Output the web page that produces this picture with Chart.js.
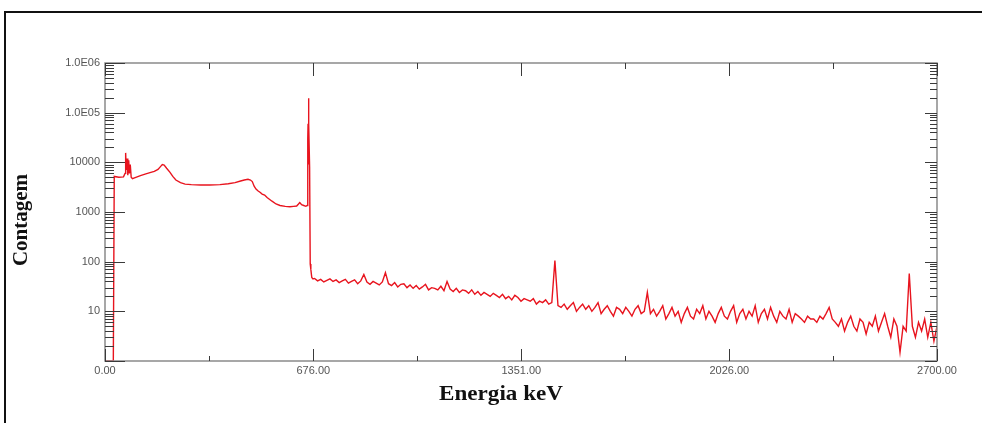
<!DOCTYPE html>
<html>
<head>
<meta charset="utf-8">
<script src="https://cdn.jsdelivr.net/npm/chart.js@4.4.0/dist/chart.umd.min.js"></script>
<style>
  body { margin: 0; background: #fff; }
  #caixa { position: relative; width: 982px; height: 423px; }
  #moldura { position: absolute; left: 4px; top: 11px; width: 980px; height: 412px;
             border-top: 2px solid #111; border-left: 2px solid #111; pointer-events: none; }
</style>
</head>
<body>
<div id="caixa">
  <canvas id="espectro" width="982" height="423"></canvas>
  <div id="moldura"></div>
</div>
<script>
// regiao de baixa energia (keV) e contagens
const energiaBaixa = [0, 20, 27, 30, 45, 60, 65, 67, 69, 72, 74, 77, 79, 82, 85, 89,
  100, 115, 130, 146, 160, 172, 180, 186, 192, 200, 211, 220, 230, 245, 260, 280, 310, 340, 373, 400,
  422, 440, 452, 464, 472, 478, 484, 490, 497, 503, 510, 518, 526, 542, 555, 568, 585, 600, 612, 622,
  628, 632, 638, 645, 652, 656, 658, 659, 660, 661, 662, 664, 666, 668, 671, 675];
const contagemBaixa = [1, 1, 1, 5200, 5000, 5100, 6000, 15500, 7000, 12000, 5500, 11000, 6000, 9000, 5000, 4700,
  5000, 5400, 5800, 6200, 6600, 7200, 8200, 9000, 8800, 7600, 6300, 5200, 4400, 3900, 3650, 3550, 3500, 3500, 3550, 3700,
  3900, 4200, 4400, 4550, 4400, 4100, 3300, 2900, 2650, 2500, 2300, 2200, 1950, 1650, 1450, 1350, 1300, 1280, 1300, 1320,
  1450, 1550, 1400, 1350, 1300, 1350, 30000, 60000, 195000, 9000, 60000, 8000, 90, 70, 48, 45];

// continuo acima do fotopico: canais de 10 keV a partir de 680 keV
const inicioContinuo = 680;
const passoContinuo = 10;
const contagemContinuo = [
  46, 41, 44, 39, 42, 45, 40, 43, 38, 41,   // 680
  44, 37, 40, 43, 36, 41, 55, 39, 35, 40,   // 780
  37, 34, 39, 60, 36, 33, 38, 31, 35, 36,   // 880
  30, 34, 29, 33, 28, 31, 35, 27, 30, 29,   // 980
  27, 32, 26, 40, 28, 25, 29, 24, 27, 26,   // 1080
  23, 27, 22, 25, 21, 24, 22, 20, 23, 21,   // 1180
  19, 22, 18, 20, 17, 21, 19, 16, 18, 17,   // 1280
  16, 18, 14, 16, 15, 17, 14, 15, 105, 13,  // 1380
  12, 14, 11, 13, 15, 10, 12, 14, 11, 13,   // 1480
  10, 12, 15, 9, 11, 13, 10, 8, 12, 11,     // 1580
  9, 12, 10, 8, 11, 13, 9, 10, 24, 9,       // 1680
  11, 8, 10, 13, 7, 9, 12, 8, 10, 6,        // 1780
  9, 12, 8, 7, 11, 9, 13, 7, 10, 8,         // 1880
  6, 9, 12, 8, 7, 10, 13, 6, 9, 11,         // 1980
  7, 10, 8, 13, 6, 9, 11, 7, 12, 8,         // 2080
  6, 10, 8, 7, 11, 6, 9, 8, 7, 6,           // 2180
  8, 7, 7, 6, 8, 7, 9, 12, 7, 6,            // 2280
  5, 7, 4, 6, 8, 5, 4, 7, 6, 3.5,           // 2380
  6, 5, 8, 4, 6, 9, 5, 3, 7, 5,             // 2480
  1.5, 5, 4, 58, 5, 3, 6, 4, 7, 3,          // 2580
  6, 2.5, 5                                 // 2680
];

const marcasEnergia = [0, 676, 1351, 2026, 2700];
const marcasMenores = [338, 1013, 1688, 2363];
const rotulosY = { 10: '10', 100: '100', 1000: '1000', 10000: '10000', 100000: '1.0E05', 1000000: '1.0E06' };

const pontos = energiaBaixa.map((e, i) => ({ x: e, y: contagemBaixa[i] }))
  .concat(contagemContinuo.map((c, i) => ({ x: inicioContinuo + i * passoContinuo, y: c })));

const eixosExtras = {
  id: 'eixosExtras',
  afterDraw(chart) {
    const { ctx, chartArea: a, scales: { x, y } } = chart;
    ctx.save();
    ctx.strokeStyle = '#8a8a8a';
    ctx.lineWidth = 1.5;
    ctx.strokeRect(a.left, a.top, a.right - a.left, a.bottom - a.top);

    ctx.strokeStyle = '#3a3a3a';
    ctx.lineWidth = 1;
    ctx.beginPath();
    marcasEnergia.forEach(v => {
      const px = Math.round(x.getPixelForValue(v)) + 0.5;
      ctx.moveTo(px, a.bottom); ctx.lineTo(px, a.bottom - 12);
      ctx.moveTo(px, a.top); ctx.lineTo(px, a.top + 13);
    });
    marcasMenores.forEach(v => {
      const px = Math.round(x.getPixelForValue(v)) + 0.5;
      ctx.moveTo(px, a.bottom); ctx.lineTo(px, a.bottom - 5);
      ctx.moveTo(px, a.top); ctx.lineTo(px, a.top + 6);
    });
    for (let d = 1; d <= 1e6; d *= 10) {
      for (let k = 1; k <= 9; k++) {
        const v = d * k;
        if (v > 1e6) break;
        const py = Math.round(y.getPixelForValue(v)) + 0.5;
        ctx.moveTo(a.left, py); ctx.lineTo(a.left + (k === 1 ? 20 : 9), py);
        ctx.moveTo(a.right, py); ctx.lineTo(a.right - (k === 1 ? 12 : 7), py);
      }
    }
    ctx.stroke();

    ctx.fillStyle = '#111';
    ctx.font = 'bold 21px "Liberation Serif", "Times New Roman", serif';
    ctx.textAlign = 'center';
    ctx.textBaseline = 'middle';
    ctx.save();
    ctx.translate(501, 395);
    ctx.scale(1.1, 1);
    ctx.fillText('Energia keV', 0, 0);
    ctx.restore();
    ctx.save();
    ctx.translate(22, 220);
    ctx.rotate(-Math.PI / 2);
    ctx.fillText('Contagem', 0, 0);
    ctx.restore();
    ctx.restore();
  }
};

new Chart(document.getElementById('espectro'), {
  type: 'line',
  data: {
    datasets: [{
      data: pontos,
      borderColor: '#e8141e',
      borderWidth: 1.4,
      pointRadius: 0,
      tension: 0
    }]
  },
  options: {
    responsive: false,
    animation: false,
    layout: { padding: { top: 63, right: 45, left: 0, bottom: 0 } },
    plugins: { legend: { display: false }, tooltip: { enabled: false } },
    scales: {
      x: {
        type: 'linear', min: 0, max: 2700,
        afterFit: s => { s.height = 62; },
        afterBuildTicks: s => { s.ticks = marcasEnergia.map(v => ({ value: v })); },
        ticks: {
          callback: v => v.toFixed(2), maxRotation: 0, autoSkip: false, padding: 3,
          color: '#555', font: { family: '"Liberation Sans", Arial', size: 11 }
        },
        grid: { display: false, drawTicks: false },
        border: { display: false }
      },
      y: {
        type: 'logarithmic', min: 1, max: 1e6,
        afterFit: s => { s.width = 105; },
        afterBuildTicks: s => { s.ticks = [1, 10, 100, 1000, 1e4, 1e5, 1e6].map(v => ({ value: v })); },
        ticks: {
          callback: v => rotulosY[v] || '', autoSkip: false, padding: 5,
          color: '#555', font: { family: '"Liberation Sans", Arial', size: 11 }
        },
        grid: { display: false, drawTicks: false },
        border: { display: false }
      }
    }
  },
  plugins: [eixosExtras]
});
</script>
</body>
</html>
